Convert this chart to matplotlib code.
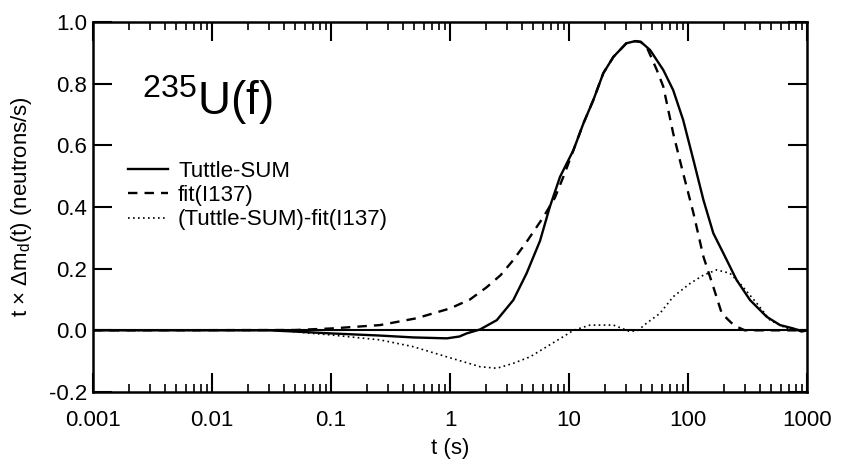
import numpy as np
import matplotlib
matplotlib.use("Agg")
import matplotlib.pyplot as plt
from matplotlib.ticker import LogLocator, FixedLocator, NullFormatter, FixedFormatter

plt.rcParams['font.family'] = ['Liberation Sans', 'DejaVu Sans']
plt.rcParams['mathtext.fontset'] = 'custom'
plt.rcParams['mathtext.rm'] = 'Liberation Sans'
plt.rcParams['mathtext.it'] = 'Liberation Sans'
plt.rcParams['mathtext.sf'] = 'Liberation Sans'

# Tuttle-SUM
t_sum = [0.001, 0.03, 0.05, 0.1, 0.258, 0.49, 0.94, 1.2, 1.38, 1.79, 2.47, 3.4, 4.4, 5.7,
         6.9, 8.4, 10.9, 13.2, 16.0, 19.4, 23.6, 30.3, 36, 40, 48, 62, 75, 91, 111, 134.6,
         163, 198, 256, 332, 458, 593, 767, 900, 1000]
v_sum = [0, 0, -0.004, -0.01, -0.017, -0.023, -0.026, -0.02, -0.01, 0.003, 0.033, 0.098,
         0.185, 0.29, 0.401, 0.498, 0.585, 0.671, 0.747, 0.834, 0.887, 0.931, 0.938, 0.936,
         0.909, 0.844, 0.779, 0.682, 0.552, 0.423, 0.315, 0.25, 0.163, 0.098, 0.044, 0.017,
         0.006, -0.004, 0]

# fit(I137)
t_fit = [0.001, 0.05, 0.1, 0.258, 0.52, 1.0, 1.47, 2.02, 2.66, 3.4, 4.4, 6.1, 7.6, 9.0,
         10.9, 13.2, 16.0, 19.4, 23.6, 30.3, 36, 40, 44.8, 54.7, 62, 75, 91, 111, 134.6,
         163, 192, 230, 256, 300, 1000]
v_fit = [0, 0.001, 0.006, 0.017, 0.039, 0.071, 0.1, 0.139, 0.179, 0.228, 0.287, 0.368,
         0.43, 0.5, 0.585, 0.671, 0.747, 0.834, 0.887, 0.931, 0.938, 0.935, 0.92, 0.844,
         0.79, 0.639, 0.509, 0.38, 0.239, 0.141, 0.055, 0.025, 0.012, 0, 0]

# (Tuttle-SUM)-fit(I137)
t_diff = [0.001, 0.04, 0.05, 0.1, 0.258, 0.49, 0.94, 1.79, 2.47, 3.4, 4.7, 6.5, 8.9, 10.9,
          15, 23.6, 28, 32.4, 38, 44.8, 58, 75, 104, 134.6, 174, 225, 273, 378, 489, 675,
          1000]
v_diff = [0, 0, -0.005, -0.015, -0.031, -0.053, -0.086, -0.118, -0.123, -0.107, -0.086,
          -0.053, -0.021, 0, 0.017, 0.017, 0.006, -0.004, 0.0, 0.023, 0.055, 0.109, 0.152,
          0.179, 0.196, 0.185, 0.152, 0.088, 0.033, 0.006, 0]

xticks = [0.001, 0.01, 0.1, 1, 10, 100, 1000]
xlabels = ["0.001", "0.01", "0.1", "1", "10", "100", "1000"]
yticks = [-0.2, 0.0, 0.2, 0.4, 0.6, 0.8, 1.0]
ylabels = ["-0.2", "0.0", "0.2", "0.4", "0.6", "0.8", "1.0"]

fig = plt.figure(figsize=(8.42, 4.68), dpi=100)
ax = fig.add_axes([0.1105, 0.1624, 0.848, 0.7906])

ax.axhline(0, color="black", lw=1.5)
ax.plot(t_sum, v_sum, color="black", lw=1.7, label="Tuttle-SUM")
ax.plot(t_fit, v_fit, color="black", lw=1.7, ls=(0, (4, 3)), label="fit(I137)")
ax.plot(t_diff, v_diff, color="black", lw=1.2, ls=(0, (1, 2)), label="(Tuttle-SUM)-fit(I137)")

ax.set_xscale("log")
ax.set_xlim(0.001, 1000)
ax.set_ylim(-0.2, 1.0)
ax.xaxis.set_major_locator(FixedLocator(xticks))
ax.xaxis.set_major_formatter(FixedFormatter(xlabels))
ax.xaxis.set_minor_locator(LogLocator(base=10, subs=np.arange(2, 10)))
ax.xaxis.set_minor_formatter(NullFormatter())
ax.yaxis.set_major_locator(FixedLocator(yticks))
ax.yaxis.set_major_formatter(FixedFormatter(ylabels))

ax.tick_params(which="major", direction="in", top=True, right=True, length=14, width=1.5,
               labelsize=16)
ax.tick_params(axis="x", which="major", pad=13)
ax.tick_params(axis="y", which="major", pad=4)
ax.tick_params(which="minor", direction="in", top=True, right=True, length=6, width=1.2)
for s in ax.spines.values():
    s.set_linewidth(1.8)

ax.set_xlabel("t (s)", fontsize=16, labelpad=5)
ax.set_ylabel(r"t $\times$ $\Delta$m$_\mathrm{d}$(t) (neutrons/s)", fontsize=16, labelpad=11)

ax.text(0.0686, 0.749, r"$^{235}$U(f)", transform=ax.transAxes, fontsize=33, va="baseline")

ax.legend(loc="upper left", bbox_to_anchor=(0.049, 0.625), frameon=False, fontsize=16,
          handlelength=1.8, handletextpad=0.45, labelspacing=0.15, borderaxespad=0,
          borderpad=0)

fig.savefig("out.png", dpi=100)
